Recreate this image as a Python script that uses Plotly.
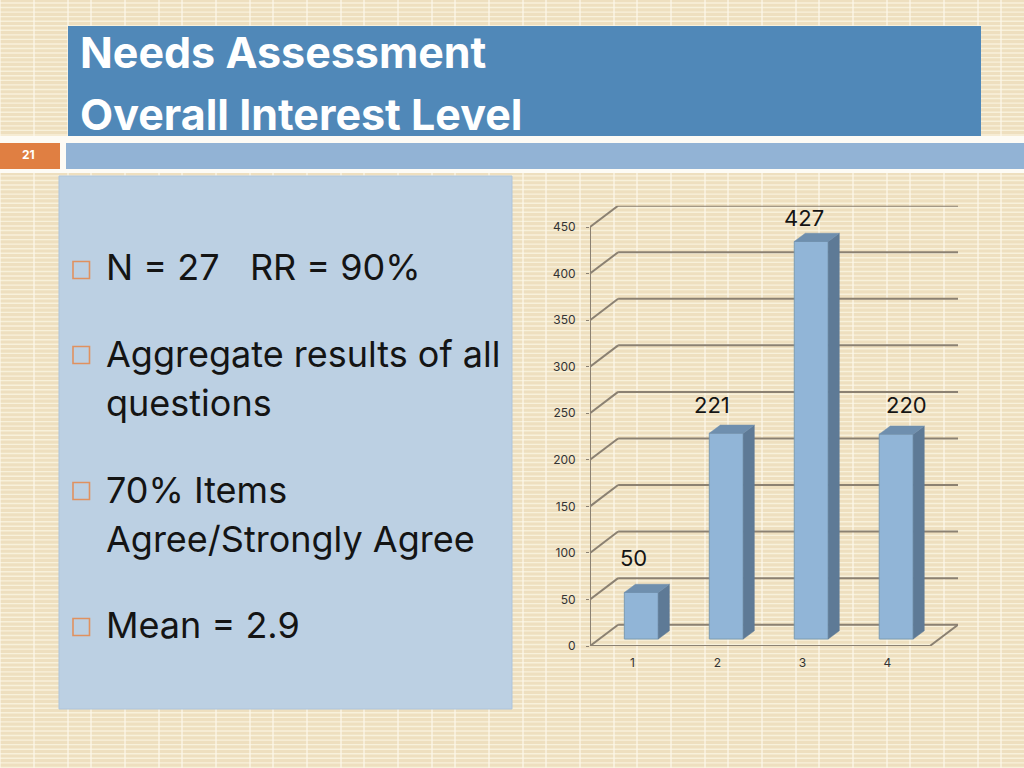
import plotly.graph_objects as go

categories = [1, 2, 3, 4]
values = [50, 221, 427, 220]
y_ticks = [0, 50, 100, 150, 200, 250, 300, 350, 400, 450]

title_lines = ['Needs Assessment', 'Overall Interest Level']
slide_number = '21'
bullets = ['N = 27 \u00a0 RR = 90%', 'Aggregate results of all', 'questions',
           '70% Items', 'Agree/Strongly Agree', 'Mean = 2.9']

W, H = 1024, 768
FONT = 'Inter'
DARK = '#141414'

# 3d look of the chart, in axis units
wall_dx, wall_dy = 0.331, 22.9
bar_width = 0.4
bar_shift, bar_lift = 0.104, 7.5
side_dx, side_dy = 0.13, 8.8
grid_col = '#8b8172'


def px(x):
    return x / W


def py(y):
    return 1 - y / H


def rect(x0, y0, x1, y1, fill, line=None, lw=1):
    return dict(type='rect', xref='paper', yref='paper', layer='below',
                x0=px(x0), x1=px(x1), y0=py(y0), y1=py(y1), fillcolor=fill,
                line=dict(color=line or fill, width=lw if line else 0))


def seg(x0, y0, x1, y1):
    return dict(type='line', xref='x', yref='y', layer='below', x0=x0, x1=x1,
                y0=y0, y1=y1, line=dict(color=grid_col, width=2))


shapes = []

# woven background
y = 3.0
while y < H:
    shapes.append(dict(type='line', xref='paper', yref='paper', layer='below',
                       x0=0, x1=1, y0=py(y), y1=py(y),
                       line=dict(color='#f8f1db', width=1.4)))
    y += 4.55
for k in range(12):
    for off in (0, 34, 68):
        xv = 91 * k + off
        shapes.append(dict(type='line', xref='paper', yref='paper', layer='below',
                           x0=px(xv), x1=px(xv), y0=0, y1=1,
                           line=dict(color='#fdf9ec', width=1.2)))

# slide furniture
shapes.append(rect(0, 136, W, 173, '#fdfbf5'))
shapes.append(rect(68, 26, 981, 136, '#5088b8'))
shapes.append(rect(0, 143, 60, 169, '#e07f42'))
shapes.append(rect(66, 143, W, 169, '#92b3d5'))
shapes.append(rect(59, 176, 512, 709, '#bcd0e3', '#aec5dc', 1))

# bullet squares
for yc in (270, 355, 491, 627):
    shapes.append(rect(73, yc - 8.5, 89.5, yc + 8.5, 'rgba(0,0,0,0)', '#e0915f', 1.6))

# chart walls
left, right = categories[0] - 0.5, categories[-1] + 0.5
for v in y_ticks:
    shapes.append(seg(left, v, left + wall_dx, v + wall_dy))
    shapes.append(seg(left + wall_dx, v + wall_dy, right + wall_dx, v + wall_dy))
shapes.append(seg(left, 0, left, y_ticks[-1]))
shapes.append(seg(left, 0, right, 0))
shapes.append(seg(right, 0, right + wall_dx, wall_dy))
for i in range(len(categories) + 1):
    shapes.append(seg(left + i, 0, left + i, -4))

fig = go.Figure()

fig.add_trace(go.Bar(x=[c + bar_shift for c in categories], y=values, base=bar_lift,
                     width=bar_width,
                     marker=dict(color='#91b5d7', line=dict(color='#7b9cb4', width=1))))

for c, v in zip(categories, values):
    x0 = c + bar_shift - bar_width / 2
    x1 = c + bar_shift + bar_width / 2
    top = v + bar_lift
    fig.add_trace(go.Scatter(
        x=[x1, x1 + side_dx, x1 + side_dx, x1, x1],
        y=[bar_lift, bar_lift + side_dy, top + side_dy, top, bar_lift],
        mode='lines', fill='toself', fillcolor='#5e7a96', line=dict(color='#5e7a96', width=0.5)))
    fig.add_trace(go.Scatter(
        x=[x0, x1, x1 + side_dx, x0 + side_dx, x0],
        y=[top, top, top + side_dy, top + side_dy, top],
        mode='lines', fill='toself', fillcolor='#6f8fae', line=dict(color='#6f8fae', width=0.5)))

annotations = []

# hand placed data labels, as in the slide
label_shift = [(-8, 34), (-14, 28), (-7, 23), (10, 29)]
for c, v, (dx, dy) in zip(categories, values, label_shift):
    annotations.append(dict(x=c + bar_shift, y=v + bar_lift, text=str(v), showarrow=False,
                            xshift=dx, yshift=dy, xanchor='center', yanchor='middle',
                            font=dict(family=FONT, size=22, color=DARK)))

for txt, yc in zip(title_lines, (52, 114)):
    annotations.append(dict(xref='paper', yref='paper', x=px(78), y=py(yc), text='<b>%s</b>' % txt,
                            showarrow=False, xanchor='left', yanchor='middle',
                            font=dict(family=FONT, size=43, color='white')))

annotations.append(dict(xref='paper', yref='paper', x=px(28), y=py(154), text='<b>%s</b>' % slide_number,
                        showarrow=False, xanchor='center', yanchor='middle',
                        font=dict(family=FONT, size=12, color='white')))

for txt, yc in zip(bullets, (267, 354, 403, 490, 539, 625)):
    annotations.append(dict(xref='paper', yref='paper', x=px(104), y=py(yc), text=txt,
                            showarrow=False, xanchor='left', yanchor='middle',
                            font=dict(family=FONT, size=36, color=DARK)))

fig.update_layout(
    width=W, height=H,
    margin=dict(l=0, r=0, t=0, b=0),
    paper_bgcolor='#eedfbf',
    plot_bgcolor='rgba(0,0,0,0)',
    showlegend=False,
    shapes=shapes,
    annotations=annotations,
    xaxis=dict(domain=[px(590), px(958)], range=[left, right + wall_dx], automargin=False,
               tickvals=categories, ticks='', showgrid=False, zeroline=False,
               showline=False, ticklabelstandoff=8, tickfont=dict(family=FONT, size=12, color='#333333')),
    yaxis=dict(domain=[py(646), py(205.7)], range=[0, y_ticks[-1] + wall_dy], automargin=False,
               tickvals=y_ticks, ticks='outside', ticklen=3, tickcolor=grid_col,
               showgrid=False, zeroline=False, showline=False, ticklabelstandoff=8,
               tickfont=dict(family=FONT, size=12, color='#333333')),
)

fig.write_html('out.html', config=dict(displayModeBar=False),
               post_script="document.body.style.margin='0';document.body.style.overflow='hidden';")
